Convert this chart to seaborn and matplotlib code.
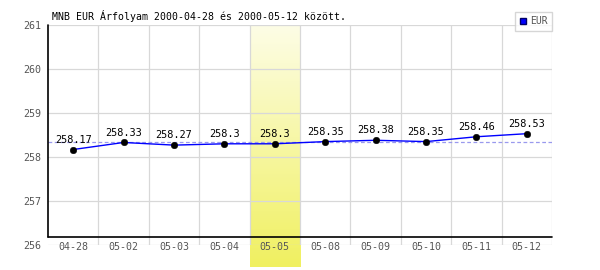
import numpy as np
import pandas as pd
import matplotlib
matplotlib.use("Agg")
import matplotlib.pyplot as plt
import seaborn as sns
from matplotlib.lines import Line2D

dates = ["04-28", "05-02", "05-03", "05-04", "05-05", "05-08", "05-09", "05-10", "05-11", "05-12"]
rates = [258.17, 258.33, 258.27, 258.3, 258.3, 258.35, 258.38, 258.35, 258.46, 258.53]
value_labels = ["258.17", "258.33", "258.27", "258.3", "258.3", "258.35", "258.38", "258.35", "258.46", "258.53"]
highlight_idx = 4
title = "MNB EUR Árfolyam 2000-04-28 és 2000-05-12 között."
series_name = "EUR"

sns.set_style("white")
plt.rcParams['font.family'] = ['DejaVu Sans Mono', 'DejaVu Sans']

df = pd.DataFrame({"idx": np.arange(len(dates)), "rate": rates})

fig = plt.figure(figsize=(6, 2.7), dpi=100)
ax = fig.add_axes([48/600, 25/270, 504/600, 220/270])

ymin, ymax = 256, 261
ax.set_xlim(-0.5, len(dates) - 0.5)
ax.set_ylim(ymin, ymax)

# highlight band with gradient
grad = np.linspace(0, 1, 256).reshape(-1, 1)
cmap = matplotlib.colors.LinearSegmentedColormap.from_list("hl", ["#fdfde6", "#f0f060"])
ax.imshow(grad, cmap=cmap, aspect="auto",
          extent=[highlight_idx - 0.5, highlight_idx + 0.5, 255.5, ymax],
          origin="upper", zorder=0.1, clip_on=False)

# grid
ax.set_xticks(np.arange(len(dates)))
ax.set_xticklabels(dates)
ax.set_xticks(np.arange(len(dates)) + 0.5, minor=True)
ax.set_yticks(range(ymin, ymax + 1))
ax.grid(False)
ax.grid(True, which="minor", axis="x", color="#d8d8d8", lw=0.9)
ax.grid(True, which="major", axis="y", color="#d8d8d8", lw=0.9)
ax.set_axisbelow(True)
for s in ax.spines.values():
    s.set_visible(False)
ax.tick_params(axis="both", which="both", length=0)
ax.tick_params(axis="x", labelsize=7.2, labelcolor="#555555", pad=-2)
ax.tick_params(axis="y", labelsize=7.2, labelcolor="#555555", pad=5)

# black axis lines
base = 256.19
ax.plot([-0.5, len(dates) - 0.5], [base, base], color="black", lw=1.2, clip_on=False, zorder=3)
ax.plot([-0.5, -0.5], [base, ymax], color="black", lw=1.2, clip_on=False, zorder=3)

# average dashed line
avg = float(np.mean(rates))
ax.axhline(avg, color="#9999ee", lw=0.9, ls=(0, (3, 2)), zorder=1)

sns.lineplot(data=df, x="idx", y="rate", color="#0000ff", lw=1, ax=ax, zorder=4)
sns.scatterplot(data=df, x="idx", y="rate", color="black", s=22, edgecolor="black", ax=ax, zorder=5)
ax.set_xlabel("")
ax.set_ylabel("")

for i, (v, lab) in enumerate(zip(rates, value_labels)):
    ax.annotate(lab, (i, v), xytext=(0, 3.5), textcoords="offset points",
                ha="center", va="bottom", fontsize=7.4, color="black", zorder=6)

fig.text(52/600, 1 - 16/270, title, fontsize=7.1, color="black", ha="left", va="center")

handle = Line2D([], [], marker="s", color="#0000ff", markeredgecolor="#000066", linestyle="", markersize=5)
leg = fig.legend([handle], [series_name], loc="upper right", bbox_to_anchor=(552/600, 1 - 12/270),
                 borderaxespad=0, frameon=True, fancybox=False, handlelength=0.8, handletextpad=0.3,
                 borderpad=0.45, fontsize=7.0, labelcolor="#555555")
leg.get_frame().set_edgecolor("#cccccc")
leg.get_frame().set_linewidth(1)
leg._legend_box.align = "left"

fig.savefig("out.png", dpi=100)
